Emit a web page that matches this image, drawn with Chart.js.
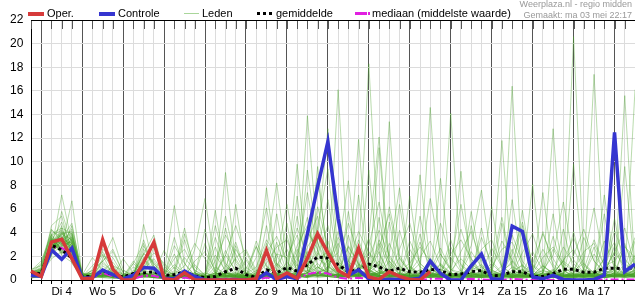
<!DOCTYPE html>
<html>
<head>
<meta charset="utf-8">
<script src="https://cdn.jsdelivr.net/npm/chart.js@4.4.1/dist/chart.umd.min.js"></script>
<style>
  body { margin: 0; background: #fff; }
  #wrap { position: relative; width: 635px; height: 300px; font-family: "Liberation Sans", Arial, sans-serif; }
  #chart { position: absolute; left: 0; top: 0; }
  .lg { position: absolute; font-size: 11px; line-height: 13px; top: 7px; color: #000; white-space: nowrap; }
  .sw { position: absolute; }
  .credit { position: absolute; right: 3px; font-size: 9px; line-height: 10px; color: #999; white-space: nowrap; }
</style>
</head>
<body>
<div id="wrap">
  <canvas id="chart" width="635" height="300"></canvas>

  <div class="sw" style="left:28px;top:12px;width:16px;height:4px;background:#d63a3a"></div>
  <div class="lg" style="left:47px">Oper.</div>
  <div class="sw" style="left:99px;top:12px;width:16px;height:4px;background:#3535d0"></div>
  <div class="lg" style="left:118px">Controle</div>
  <div class="sw" style="left:184px;top:13px;width:15px;height:1px;background:#a9d69a"></div>
  <div class="lg" style="left:202px">Leden</div>
  <div class="sw" style="left:257px;top:12px;width:15px;height:3px;background:repeating-linear-gradient(90deg,#000 0 3px,transparent 3px 6px)"></div>
  <div class="lg" style="left:276px">gemiddelde</div>
  <div class="sw" style="left:355px;top:12px;width:12px;height:3px;background:#e020e0"></div>
  <div class="sw" style="left:368px;top:12px;width:2px;height:3px;background:#e020e0"></div>
  <div class="lg" style="left:372px">mediaan (middelste waarde)</div>

  <div class="credit" style="top:-1px">Weerplaza.nl - regio midden</div>
  <div class="credit" style="top:10px">Gemaakt: ma 03 mei 22:17</div>
</div>

<script>
// 6-hourly steps, first point = ma 3 18:00, last = di 18 12:00
const steps = ['ma 18u',
  'di 00u','di 06u','di 12u','di 18u', 'wo 00u','wo 06u','wo 12u','wo 18u',
  'do 00u','do 06u','do 12u','do 18u', 'vr 00u','vr 06u','vr 12u','vr 18u',
  'za 00u','za 06u','za 12u','za 18u', 'zo 00u','zo 06u','zo 12u','zo 18u',
  'ma 00u','ma 06u','ma 12u','ma 18u', 'di 00u','di 06u','di 12u','di 18u',
  'wo 00u','wo 06u','wo 12u','wo 18u', 'do 00u','do 06u','do 12u','do 18u',
  'vr 00u','vr 06u','vr 12u','vr 18u', 'za 00u','za 06u','za 12u','za 18u',
  'zo 00u','zo 06u','zo 12u','zo 18u', 'ma 00u','ma 06u','ma 12u','ma 18u',
  'di 00u','di 06u','di 12u'];

// day labels, shown at noon
const dayLabels = ['Di 4','Wo 5','Do 6','Vr 7','Za 8','Zo 9','Ma 10','Di 11','Wo 12','Do 13','Vr 14','Za 15','Zo 16','Ma 17'];

const yTicks = [0,2,4,6,8,10,12,14,16,18,20,22];

// operationele run (stopt na do 13 12u)
const oper = [0.75,
  0.3,3.2,3.45,1.8, 0.1,0.15,3.4,0.9, 0,0,1.5,3.2, 0.1,0,0.6,0,
  0,0,0,0, 0,0.1,2.5,0.1, 0.6,0.15,1.85,3.9, 2.3,0.8,0.3,2.7,
  0.25,0.05,0.7,0.3, 0.05,0,0.7];

const controle = [0.4,
  0.3,2.55,1.75,2.7, 0.15,0.2,0.85,0.45, 0.1,0.4,1.05,1.0, 0.15,0.1,0.75,0.3,
  0,0,0,0, 0,0,0.6,0.05, 0.3,0.1,3.9,7.9, 11.7,5.2,0.4,0.85,
  0.1,0.05,0.05,0.05, 0.05,0.15,1.6,0.55, 0,0,1.2,2.2, 0.1,0.05,4.55,4.1,
  0.25,0.1,0.4,0.05, 0,0,0.05,0.4, 12.5,0.7,1.35];

const gemiddelde = [0.5,
  0.55,2.95,2.55,1.85, 0.3,0.3,0.8,0.45, 0.25,0.55,0.6,0.7, 0.4,0.45,0.7,0.35,
  0.2,0.3,0.7,1.0, 0.45,0.2,0.85,0.6, 1.05,0.75,1.3,1.95, 1.85,1.3,0.7,0.9,
  1.35,1.1,0.75,1.0, 0.7,0.65,0.9,0.8, 0.45,0.5,0.7,0.8, 0.35,0.4,0.7,0.7,
  0.3,0.3,0.55,0.9, 0.9,0.65,0.65,1.0, 1.0,0.95,1.05];

const mediaan = [0.3,
  0.4,2.8,2.7,2.2, 0.15,0.2,0.6,0.3, 0.1,0.1,0.35,0.35, 0.1,0,0.2,0.05,
  0,0,0.1,0.1, 0,0,0.2,0.05, 0.2,0.1,0.5,0.65, 0.55,0.2,0.1,0.2,
  0.1,0.05,0.1,0.1, 0.05,0,0.1,0.1, 0,0.05,0.1,0.05, 0,0,0.1,0.05,
  0,0,0,0.05, 0.05,0,0,0.05, 0.05,0.05,0.05];

// ensembleleden (geschat uit de pluim)
const leden = [
  [0.5, 0.8,3.2,3.8,2.5, 0.3,0.2,1.2,0.6, 0.1,0.3,1.8,0.9, 0.2,0.1,0.6,0.2, 0,0.4,2.1,0.8, 0.1,0,0.6,0.3, 1.5,0.4,2.8,4.1, 1.2,0.6,0.3,1.1, 3.5,0.8,0.4,1.9, 0.6,0.2,0.9,0.5, 0.1,0.3,1.4,0.6, 0.2,0.1,0.8,1.2, 0.3,0.2,0.5,1.6, 0.9,0.4,0.6,1.8, 0.7,0.5,1.1],
  [0.3, 0.4,2.6,7.2,3.1, 0.2,0.9,2.4,0.8, 0.2,0.1,0.5,0.3, 0.1,0.8,0.3,0, 0.2,1.1,0.4,0.2, 0,0.3,1.8,0.9, 0.4,0.2,1.2,2.5, 6.8,1.4,0.5,0.2, 0.8,0.4,1.6,0.7, 0.3,0.1,0.4,1.3, 0.6,0.2,0.1,0.4, 0.9,0.3,0.2,0.1, 0.4,1.2,0.6,0.3, 0.1,0.5,2.2,0.8, 0.3,1.4,0.6],
  [0.9, 1.2,3.8,2.9,6.7, 0.5,0.3,0.8,1.5, 0.4,0.2,4.7,1.1, 0.3,0.1,0.2,0.1, 0.6,0.3,0.2,0.5, 0.2,0.1,0.4,1.2, 2.6,0.8,0.3,1.1, 0.6,0.2,0.4,2.1, 18.3,2.2,0.6,0.3, 0.2,0.4,1.6,0.5, 0.2,0.1,0.6,0.3, 0.1,0.2,0.4,0.9, 0.3,0.1,0.2,0.6, 1.1,0.3,0.2,0.4, 0.5,0.3,0.9],
  [0.2, 0.6,2.9,3.3,1.6, 0.1,0.4,0.6,0.2, 0.1,0.6,2.2,3.8, 0.5,6.3,1.4,0.3, 0.2,0.1,0.6,0.3, 0.1,0.2,0.3,0.5, 0.8,0.3,0.6,1.8, 2.4,0.7,0.3,0.5, 0.9,0.4,0.2,0.6, 0.3,0.2,0.4,0.8, 14.1,1.2,0.4,0.2, 0.3,0.1,0.2,0.5, 0.2,0.4,0.8,0.3, 0.2,0.6,0.3,0.2, 0.4,0.8,0.5],
  [0.4, 0.3,2.2,4.1,2.8, 0.2,0.1,1.8,3.6, 0.9,0.2,0.4,0.2, 0.1,0.2,0.5,0.2, 0.1,0.3,9.1,1.4, 0.2,0.1,0.3,0.2, 0.4,1.3,0.6,0.3, 0.8,0.3,1.2,0.5, 0.4,0.8,0.3,0.2, 0.1,0.3,0.7,0.4, 0.2,0.5,1.1,0.7, 0.3,0.2,0.6,1.3, 0.4,0.3,0.2,0.4, 0.6,0.3,0.8,0.5, 0.2,0.4,0.7],
  [0.1, 0.5,1.8,2.4,3.5, 0.3,0.2,0.4,0.3, 0.2,0.4,1.3,0.6, 2.5,0.9,4.4,0.6, 0.2,0.1,0.2,0.4, 0.3,0.6,2.4,8.2, 1.6,0.4,0.2,0.6, 1.1,0.5,0.3,0.8, 1.4,0.5,0.9,0.4, 0.6,0.2,0.3,0.5, 0.2,0.3,0.6,1.1, 0.4,0.2,0.3,0.6, 0.2,0.1,0.4,0.8, 0.3,0.2,0.5,1.1, 0.6,0.3,0.4],
  [0.6, 1.1,4.2,3.6,2.1, 0.4,0.6,0.3,0.2, 0.1,1.4,3.1,0.8, 0.2,0.1,0.3,2.6, 6.9,1.2,0.4,0.2, 0.1,0.2,0.5,0.3, 0.2,0.4,1.6,0.8, 0.5,1.3,0.6,0.3, 0.7,0.2,0.4,0.3, 0.5,0.4,0.2,0.3, 0.6,0.3,0.2,0.4, 0.3,11.8,0.9,0.4, 0.2,0.3,0.6,0.4, 0.2,0.3,0.6,0.2, 0.3,0.5,0.8],
  [0.3, 0.2,3.4,2.7,1.9, 0.2,0.3,0.9,0.4, 0.3,0.2,0.6,0.4, 0.1,0.2,0.4,0.1, 0.3,5.9,0.7,0.3, 0.2,2.9,0.6,0.2, 0.4,0.2,0.8,0.5, 1.7,0.4,0.3,11.9, 0.6,0.3,0.4,0.2, 0.3,0.9,0.5,0.3, 0.2,0.4,0.3,0.2, 0.5,0.3,0.2,0.4, 8.1,0.5,0.3,0.2, 0.4,0.2,0.3,0.6, 0.2,0.3,0.4],
  [0.7, 0.9,2.8,3.1,4.3, 0.6,0.2,0.4,0.3, 0.2,0.1,0.3,0.5, 0.3,0.4,0.2,0.3, 0.2,0.4,0.3,6.4, 0.8,0.3,0.2,0.4, 0.3,9.8,1.2,0.4, 0.3,0.2,0.5,0.4, 0.8,0.4,13.4,0.9, 0.4,0.3,0.2,0.6, 0.3,0.2,0.4,0.5, 0.2,0.4,0.3,0.2, 0.3,0.6,12.8,1.1, 0.5,0.3,0.4,0.3, 0.6,0.4,0.3],
  [0.2, 0.4,3.6,2.2,2.6, 0.1,0.5,0.6,0.2, 0.1,0.2,0.8,0.4, 0.2,0.1,0.6,0.3, 0.4,0.2,0.5,0.3, 0.2,0.1,0.4,0.6, 0.2,0.3,13.9,3.2, 0.6,0.2,0.4,0.3, 0.5,0.3,0.2,0.4, 0.3,0.5,0.6,0.4, 0.2,0.6,0.3,0.2, 0.4,0.3,0.5,0.3, 0.2,0.4,0.3,0.5, 20.6,1.4,0.3,0.2, 0.4,0.2,0.3],
  [0.5, 0.7,2.4,4.6,1.4, 0.2,0.4,0.2,0.1, 0.4,0.6,0.3,0.2, 0.1,0.3,0.2,0.4, 0.3,0.2,0.4,0.2, 0.6,0.4,7.8,1.3, 0.6,0.4,0.3,0.6, 0.5,16.1,1.4,0.5, 0.3,0.6,0.4,0.3, 0.2,0.4,0.3,0.2, 0.3,0.4,0.5,0.3, 0.6,0.4,0.3,0.2, 0.4,0.3,0.2,0.3, 0.5,0.4,17.4,1.3, 0.4,0.3,0.5],
  [0.2, 0.3,3.1,2.6,3.4, 0.4,0.3,0.5,0.2, 0.2,0.3,1.6,0.7, 0.3,0.2,0.3,0.2, 0.1,0.4,0.2,0.3, 0.2,0.3,0.6,0.4, 0.3,0.4,0.6,1.4, 0.5,0.3,0.4,0.6, 0.4,0.3,0.5,0.4, 0.3,0.6,14.6,1.2, 0.4,0.3,0.2,0.4, 0.3,0.5,0.4,0.3, 0.2,0.3,0.4,0.3, 0.4,0.3,0.6,0.4, 0.3,15.6,0.8],
  [0.4, 0.6,4.6,5.4,2.2, 0.3,0.2,0.4,0.6, 0.3,0.2,0.4,0.2, 0.1,0.3,0.4,0.2, 0.3,0.6,0.4,0.3, 0.2,0.3,0.4,0.2, 0.3,0.5,0.3,0.4, 0.6,0.4,0.3,0.5, 0.4,11.2,0.8,0.3, 0.5,0.3,0.4,0.2, 0.4,0.3,0.6,0.4, 0.2,0.3,16.4,0.8, 0.3,0.2,0.4,0.3, 0.5,0.3,0.4,0.6, 0.3,0.4,0.5],
  [0.3, 0.5,2.5,3.0,3.2, 0.2,0.4,0.3,0.4, 0.2,0.3,0.5,0.3, 0.2,0.4,0.3,0.2, 0.1,0.2,0.3,0.4, 0.3,0.4,0.2,0.5, 0.4,0.3,0.5,0.4, 0.3,0.5,0.4,0.3, 0.6,0.4,0.3,0.5, 0.4,0.3,0.2,0.4, 0.3,0.5,0.4,0.6, 0.4,0.3,0.5,0.4, 0.3,0.4,0.5,0.3, 0.4,0.6,0.3,0.4, 0.5,0.3,16.1],
  [0.6, 0.8,3.3,4.9,2.7, 0.4,1.9,0.8,0.3, 0.2,0.4,0.3,2.8, 1.2,0.3,0.2,0.4, 3.1,0.6,0.3,0.2, 0.4,0.3,4.6,0.8, 0.3,2.2,5.3,1.1, 0.5,0.3,3.8,0.6, 0.3,0.8,0.4,4.2, 1.1,0.3,0.2,0.6, 3.4,0.8,0.3,0.2, 0.5,4.8,0.9,0.3, 0.2,0.6,3.7,0.8, 0.3,0.5,0.2,0.6, 5.2,0.7,0.4],
  [0.3, 0.4,2.7,3.5,4.8, 0.3,0.2,0.6,0.3, 1.8,0.6,0.3,0.2, 0.3,3.6,0.8,0.2, 0.2,0.5,4.4,0.9, 0.3,0.2,0.4,5.6, 0.8,0.3,4.1,2.6, 0.4,6.2,0.8,0.3, 0.6,2.4,0.3,0.5, 7.1,0.9,0.3,0.2, 0.4,0.3,5.8,1.2, 0.3,0.2,0.4,3.6, 0.6,0.3,0.2,4.3, 0.8,0.2,0.5,0.3, 2.9,0.6,0.4],
  [0.8, 1.6,3.9,2.4,1.8, 0.5,0.3,1.4,0.7, 0.2,0.3,2.6,1.4, 0.3,0.2,0.3,0.6, 0.4,2.8,0.6,0.3, 1.7,0.4,0.3,0.8, 4.8,0.6,0.3,0.5, 3.3,0.4,0.6,7.2, 0.8,0.3,4.9,0.6, 0.3,0.4,0.2,8.6, 0.9,0.3,0.4,0.3, 6.2,0.8,0.4,0.3, 0.2,0.4,0.8,0.5, 4.1,0.7,0.3,0.6, 0.4,0.3,3.3],
  [0.2, 0.3,2.1,4.4,3.9, 0.2,0.6,2.1,0.4, 0.3,0.2,0.6,0.4, 0.2,1.1,0.4,0.3, 0.2,0.4,0.8,0.3, 0.2,0.5,0.3,0.4, 0.6,5.4,0.9,0.4, 0.3,0.5,0.8,3.4, 0.9,0.4,0.3,0.5, 0.3,5.4,1.1,0.3, 0.5,0.3,0.4,0.8, 0.3,0.5,2.6,0.4, 0.3,7.4,0.9,0.3, 0.2,0.4,2.8,0.6, 0.8,0.3,0.6],
  [0.4, 0.9,3.0,3.2,2.9, 0.3,0.4,0.3,1.2, 0.4,0.3,3.4,0.9, 0.2,0.4,0.6,0.3, 0.2,0.3,0.6,1.8, 0.4,0.3,0.6,0.4, 0.3,0.6,0.8,9.6, 1.2,0.4,0.3,0.5, 0.4,0.6,0.8,0.3, 0.4,0.3,0.6,0.4, 0.3,0.6,0.4,0.3, 0.8,0.4,0.3,0.6, 0.4,0.3,0.6,0.4, 0.3,0.8,0.4,0.3, 0.6,0.4,0.3],
  [0.5, 0.6,2.3,2.8,3.7, 0.6,0.3,0.5,0.3, 0.3,0.8,0.4,0.3, 0.4,0.2,0.3,0.4, 0.3,0.2,0.3,0.4, 0.3,0.4,0.3,0.6, 0.4,0.3,0.4,0.6, 0.9,0.4,0.3,0.5, 0.4,0.3,0.6,0.4, 0.3,0.4,0.5,0.3, 0.4,0.3,0.6,0.4, 0.3,0.4,0.3,0.5, 0.3,0.4,0.6,0.3, 0.4,0.5,0.3,0.4, 0.3,0.5,0.4],
  [0.2, 0.4,3.7,2.5,2.3, 0.4,0.8,1.6,2.6, 0.6,0.2,0.3,0.4, 0.3,0.2,0.4,0.6, 0.2,0.4,0.3,0.2, 0.4,0.3,0.2,0.4, 0.3,0.4,0.2,3.6, 12.8,2.1,0.4,0.3, 0.5,0.3,0.4,0.6, 0.3,0.2,0.5,0.3, 0.4,0.3,0.2,0.5, 0.3,0.6,0.4,0.3, 0.5,0.3,0.4,0.2, 0.3,0.4,0.6,0.3, 0.4,0.3,0.2],
  [0.6, 0.5,2.9,3.9,4.1, 0.3,0.2,0.3,0.5, 0.2,0.4,0.6,0.3, 0.2,0.3,0.2,0.4, 0.6,0.3,0.4,0.3, 0.2,0.6,0.3,0.2, 0.4,0.6,0.3,0.5, 0.3,0.4,0.6,0.3, 0.5,0.3,0.4,0.3, 0.4,0.3,0.2,0.4, 0.6,0.3,0.4,0.2, 0.3,0.5,0.4,0.3, 0.4,0.3,0.5,0.4, 0.3,0.4,0.3,0.5, 0.4,0.3,0.6],
  [0.3, 0.5,3.5,2.1,1.5, 0.2,0.3,0.4,0.2, 0.3,0.2,0.4,0.3, 0.2,0.5,3.4,0.6, 0.3,0.4,2.5,0.6, 0.3,0.2,0.4,0.3, 3.8,0.6,0.3,0.4, 0.6,0.3,5.8,0.9, 0.4,0.3,0.5,0.4, 0.6,3.9,0.5,0.3, 0.2,0.4,0.3,4.4, 0.7,0.3,0.4,0.5, 0.3,0.5,5.6,0.8, 0.4,0.3,0.6,0.4, 0.3,3.1,0.5],
  [0.4, 0.7,2.0,5.8,3.0, 0.3,0.4,0.6,0.3, 0.2,1.1,0.5,0.3, 0.3,0.2,0.3,0.4, 0.2,0.3,0.6,0.3, 0.4,0.3,0.5,3.2, 0.6,0.4,0.3,2.3, 0.5,0.3,0.4,0.6, 0.3,5.3,0.6,0.3, 0.4,0.3,0.6,0.4, 0.3,0.5,0.4,0.6, 0.3,0.4,0.3,5.9, 0.8,0.3,0.4,0.3, 0.5,0.3,0.4,5.6, 0.7,0.4,0.3],
  [0.6, 1.0,3.2,3.6,2.4, 0.4,0.3,0.2,0.4, 0.3,0.2,0.3,0.6, 0.4,0.2,0.3,0.2, 0.3,0.6,0.4,0.3, 0.2,0.3,0.6,0.4, 0.3,0.4,0.2,0.3, 0.4,0.3,0.2,0.4, 9.3,0.7,0.3,0.4, 0.2,0.4,0.3,0.5, 0.4,0.2,0.3,0.4, 0.3,0.4,0.2,0.3, 0.4,0.6,0.3,0.4, 0.3,0.2,0.4,0.3, 0.4,0.3,0.5],
  [0.3, 0.6,3.4,3.4,3.1, 0.2,0.4,0.5,0.3, 0.2,0.3,0.4,0.2, 0.3,0.2,0.4,0.3, 0.2,0.3,0.4,0.2, 0.3,0.4,0.2,0.3, 0.4,0.2,0.3,0.4, 0.3,0.5,0.2,0.3, 0.4,0.3,0.2,0.3, 0.2,0.4,0.3,0.2, 0.3,0.4,0.2,0.3, 0.4,0.3,0.2,0.4, 0.3,0.2,0.4,0.3, 0.2,0.3,0.4,0.2, 0.3,0.4,0.3],
  [0.5, 0.8,2.6,2.9,3.3, 0.3,0.2,0.3,0.4, 0.3,0.2,0.5,0.3, 0.4,0.3,0.2,0.3, 0.2,0.3,0.2,0.4, 0.3,0.2,0.3,0.2, 0.6,0.3,2.4,0.6, 0.3,0.4,0.2,0.6, 0.4,0.3,0.2,0.4, 0.3,0.2,0.4,0.3, 0.2,9.2,0.6,0.3, 0.2,0.4,0.3,0.2, 0.3,0.4,0.2,0.3, 0.4,0.3,0.2,0.4, 0.3,0.2,0.4],
  [0.2, 0.4,3.0,3.7,2.0, 0.2,0.3,0.4,0.2, 0.1,0.2,0.3,0.2, 0.2,0.3,0.2,0.2, 0.3,0.2,0.3,0.2, 0.2,0.3,0.2,0.3, 0.2,0.3,0.4,0.2, 0.3,0.2,0.3,0.4, 0.2,0.3,0.2,0.3, 0.2,0.3,0.4,0.2, 0.3,0.2,0.3,0.2, 0.4,0.3,0.2,0.3, 0.2,0.3,0.2,0.4, 0.3,0.2,0.3,0.2, 0.3,0.2,0.3],
  [0.4, 0.5,2.8,4.0,2.6, 0.3,0.6,0.3,0.2, 0.4,0.3,0.2,0.5, 0.3,2.2,0.4,0.3, 0.2,0.3,0.5,2.9, 0.4,0.3,0.2,0.4, 0.3,7.1,0.8,0.4, 0.3,0.2,0.4,0.3, 0.6,0.4,0.3,6.4, 0.9,0.4,0.3,0.2, 0.4,0.3,0.5,0.3, 0.2,0.4,0.3,0.4, 0.3,0.2,0.4,0.3, 9.8,0.6,0.3,0.4, 0.3,0.4,0.2],
  [0.3, 0.6,3.1,2.3,3.6, 0.4,0.3,0.2,0.3, 0.2,0.3,0.4,0.2, 0.3,0.4,0.2,0.3, 4.3,0.6,0.3,0.2, 0.3,0.2,0.4,0.3, 0.4,0.3,0.2,0.6, 0.3,0.5,0.3,0.4, 0.3,0.2,0.4,0.3, 0.2,0.3,0.4,0.6, 0.3,0.2,4.6,0.7, 0.3,0.4,0.2,0.3, 0.6,0.3,0.4,0.2, 0.3,0.4,0.3,0.2, 0.4,9.6,0.6],
  [0.5, 0.7,2.5,3.3,2.1, 0.2,0.4,0.7,0.3, 0.2,0.2,0.3,0.4, 0.2,0.3,0.2,0.3, 0.2,0.6,0.3,0.2, 2.4,0.6,0.3,0.2, 0.3,0.2,0.4,0.6, 0.3,0.2,0.4,0.3, 0.2,0.4,0.3,0.2, 0.4,0.3,0.2,0.3, 0.2,0.4,0.3,0.2, 0.3,0.2,6.8,0.8, 0.3,0.4,0.2,0.3, 0.2,0.4,0.3,0.2, 0.3,0.4,0.3],
  [0.6, 0.9,3.6,2.6,4.6, 0.5,0.3,0.4,0.2, 0.3,0.4,0.2,0.3, 0.2,0.3,0.4,0.2, 0.3,0.4,0.6,0.3, 0.2,0.4,0.3,0.2, 0.4,0.3,0.6,0.3, 0.4,0.3,0.5,0.4, 0.3,0.6,0.3,0.4, 0.3,0.2,0.4,0.3, 0.4,0.3,0.2,0.4, 0.3,0.4,0.3,0.2, 0.4,0.3,0.2,0.3, 0.4,0.3,0.2,0.4, 0.3,0.6,0.4],
  [0.4, 0.6,2.4,3.9,3.4, 0.3,1.2,2.2,1.1, 0.3,0.5,2.3,1.4, 0.4,1.8,2.6,0.8, 0.3,1.6,3.8,2.2, 0.5,1.1,3.4,2.1, 0.6,2.9,4.6,1.8, 1.2,3.6,2.4,0.9, 1.8,4.2,2.1,0.8, 1.4,2.8,1.6,0.6, 2.2,3.4,1.8,0.7, 1.1,2.6,3.2,1.2, 0.6,1.9,2.8,1.4, 0.8,2.4,3.1,1.2, 1.6,2.8,1.9],
  [0.6, 1.3,3.9,4.4,2.2, 0.5,0.3,1.6,2.4, 0.6,0.3,1.1,2.3, 1.4,0.5,1.2,3.1, 1.8,0.6,2.1,4.6, 1.9,0.5,2.3,3.7, 1.6,4.4,2.1,0.9, 2.6,1.3,4.8,2.2, 0.9,2.7,5.6,1.8, 0.7,1.9,3.3,1.2, 0.5,2.4,4.1,1.6, 0.8,3.3,1.7,0.6, 1.4,3.9,1.8,0.5, 2.1,4.3,1.6,0.7, 2.4,1.1,3.6],
  [0.3, 0.5,3.3,3.1,1.7, 0.2,0.4,0.9,0.5, 0.3,0.6,0.8,0.6, 0.3,2.9,1.4,0.4, 0.2,0.8,5.4,1.6, 0.4,0.3,1.4,2.8, 3.4,1.2,0.6,6.2, 2.8,0.7,1.6,4.1, 2.3,0.9,0.5,2.6, 4.8,1.4,0.6,0.4, 1.3,6.4,1.8,0.5, 0.4,1.2,3.8,1.6, 0.5,0.8,2.1,6.6, 1.7,0.6,0.4,1.8, 3.2,0.9,0.6],
  [0.5, 0.8,2.2,3.4,4.0, 0.4,0.6,0.5,0.3, 0.2,0.3,0.9,1.8, 0.6,0.3,0.5,1.3, 0.4,3.6,1.2,0.4, 0.3,1.9,6.1,1.4, 0.5,0.6,3.3,5.4, 1.6,2.3,8.4,1.2, 0.6,0.4,2.2,7.8, 1.1,0.5,0.8,2.7, 0.9,0.6,2.4,1.1, 0.4,0.8,1.4,4.6, 1.2,0.4,0.6,2.8, 1.4,0.5,0.3,7.2, 1.3,0.6,2.1],
  [0.2, 0.3,2.8,3.6,2.9, 0.3,0.2,2.6,1.9, 0.4,0.2,0.6,3.3, 0.8,0.4,0.2,0.6, 0.2,0.4,1.1,3.2, 0.6,0.3,0.4,2.2, 1.9,3.8,1.1,0.7, 0.9,3.1,1.3,0.6, 2.9,6.6,1.9,0.8, 0.6,1.4,6.9,2.2, 0.8,1.8,0.9,2.6, 3.4,1.2,0.5,0.6, 2.4,0.8,0.6,1.6, 3.6,1.2,0.6,0.9, 2.3,4.4,1.1],
  [0.7, 1.4,4.3,3.2,2.6, 0.6,0.4,0.3,1.2, 0.8,0.4,2.2,1.6, 0.4,1.3,0.6,0.3, 0.2,0.6,0.5,1.9, 2.6,0.8,0.5,1.4, 0.8,0.6,9.3,3.1, 1.4,0.6,2.8,1.3, 0.6,3.4,1.6,0.5, 2.6,1.1,0.6,4.8, 1.9,0.7,0.4,0.6, 1.4,5.3,1.2,0.6, 0.8,2.6,1.1,0.4, 0.6,1.8,6.1,1.4, 0.8,0.6,1.9],
  [0.4, 0.6,3.0,2.8,3.8, 0.4,0.3,0.6,0.4, 0.3,1.6,0.7,0.3, 0.2,0.4,1.9,0.8, 0.4,0.3,0.6,0.4, 0.9,2.8,1.1,0.5, 0.4,1.6,3.6,8.6, 2.2,0.8,0.4,1.3, 1.1,0.6,3.1,1.2, 0.5,8.9,1.3,0.6, 0.4,0.8,2.9,7.6, 1.6,0.6,0.4,0.9, 0.6,4.1,1.3,0.5, 0.4,0.9,0.6,3.3, 1.1,0.5,0.4],
  [0.3, 0.5,3.2,4.1,3.0, 0.2,0.4,0.8,0.3, 0.2,0.3,0.5,0.4, 0.2,0.3,0.6,0.3, 0.4,0.3,0.5,0.6, 0.3,0.8,0.4,1.8, 6.4,1.8,0.6,2.1, 4.6,1.1,0.6,0.4, 0.8,1.6,0.5,0.3, 0.6,0.4,1.8,0.9, 0.5,0.3,0.6,0.4, 0.3,0.6,1.6,0.5, 0.3,0.5,0.9,0.4, 0.3,0.6,0.4,0.8, 0.5,0.3,0.6],
  [0.5, 0.9,3.5,2.6,2.8, 0.5,0.3,0.4,0.6, 0.4,0.2,0.3,0.5, 0.3,0.6,0.4,0.2, 0.3,2.1,0.8,0.4, 0.6,0.4,0.3,0.6, 0.4,0.3,1.9,4.4, 9.4,1.6,0.7,0.4, 0.6,0.4,0.8,0.5, 0.3,0.5,0.4,0.3, 0.6,0.4,0.3,0.8, 0.5,0.4,0.6,0.3, 0.4,0.8,0.5,0.3, 0.6,0.4,0.3,0.5, 0.4,0.6,0.3],
  [0.4, 0.7,2.7,3.0,2.4, 0.3,0.2,0.5,0.4, 0.2,0.5,1.9,0.6, 0.3,0.2,0.4,0.3, 0.2,0.4,0.3,0.5, 0.3,0.2,0.6,0.4, 0.3,0.5,0.4,0.6, 0.4,0.3,0.6,0.4, 3.6,12.1,1.4,0.5, 0.3,0.6,0.4,0.3, 0.5,0.4,0.6,0.3, 0.4,0.3,0.5,0.4, 0.3,0.6,0.4,0.5, 0.3,0.4,0.6,0.3, 0.5,0.4,0.3],
  [0.6, 1.0,3.8,4.2,3.3, 0.4,0.6,0.4,0.3, 0.2,0.4,0.6,0.3, 0.2,0.3,0.4,0.3, 0.2,0.3,0.4,0.6, 0.4,0.3,0.5,0.3, 0.4,0.6,0.3,0.4, 0.6,0.4,0.3,0.5, 0.4,0.6,0.4,0.3, 0.5,0.3,0.4,0.6, 0.3,0.4,0.3,0.5, 0.6,0.4,0.3,0.4, 0.5,0.3,0.4,0.6, 0.3,0.4,0.5,0.3, 0.4,0.5,0.3],
  [0.3, 0.4,2.3,3.3,3.9, 0.3,0.2,0.4,0.3, 0.2,0.3,0.4,0.2, 0.3,0.2,0.3,0.4, 0.3,0.2,0.4,0.3, 0.2,0.4,0.3,0.5, 0.3,0.4,0.6,0.3, 0.5,0.3,0.4,0.3, 0.6,0.4,0.3,0.5, 0.4,0.3,0.5,0.4, 0.3,0.5,0.4,0.3, 0.4,0.6,0.3,0.4, 0.3,0.4,0.5,0.3, 0.4,0.3,0.5,0.4, 0.3,0.4,0.5],
  [0.2, 0.3,2.6,3.5,2.7, 0.2,0.3,0.5,0.4, 0.2,0.4,2.9,1.2, 0.3,0.6,3.9,1.1, 0.4,4.6,1.4,0.5, 0.3,3.3,1.2,0.4, 0.6,1.8,7.4,2.4, 0.8,4.1,1.6,0.6, 2.4,1.2,6.2,2.1, 0.7,3.2,1.1,0.4, 2.8,1.3,0.6,3.6, 1.4,0.5,2.2,4.9, 1.3,0.6,2.6,1.1, 0.5,3.6,1.6,0.6, 4.2,1.8,0.7],
  [0.5, 0.7,3.4,2.3,3.1, 0.3,0.8,1.6,0.6, 0.3,1.4,0.6,0.3, 0.9,0.4,0.3,1.6, 2.4,0.8,0.4,2.6, 1.1,0.4,3.1,1.2, 0.4,2.6,1.1,3.8, 1.2,0.5,2.9,1.4, 0.6,3.1,1.2,0.5, 3.3,1.4,0.6,2.2, 0.9,4.3,1.5,0.6, 2.7,1.1,0.5,2.3, 3.9,1.2,0.5,1.7, 2.6,0.9,3.4,1.3, 0.6,2.9,1.2],
  [0.3, 0.4,3.1,4.0,2.5, 0.2,0.3,0.4,0.8, 0.5,0.3,0.6,0.4, 0.3,0.2,0.6,0.5, 0.3,0.5,0.4,0.3, 0.2,0.4,0.6,0.5, 0.3,0.8,1.4,0.6, 0.4,1.1,0.5,0.3, 0.6,1.3,0.5,0.4, 1.2,0.5,0.3,1.4, 0.6,0.3,0.8,1.3, 0.5,0.3,1.1,0.6, 0.4,1.2,0.5,0.3, 0.8,1.4,0.6,0.4, 1.1,0.5,0.8],
  [0.4, 0.6,2.9,3.1,3.6, 0.4,0.5,0.3,0.4, 0.3,0.2,0.4,0.6, 0.4,0.3,0.5,0.3, 0.2,0.4,0.6,0.4, 0.5,0.3,0.4,0.8, 0.5,0.4,0.6,1.1, 0.6,0.4,0.8,0.5, 0.4,0.6,0.9,0.4, 0.6,0.8,0.4,0.5, 0.3,0.6,0.5,0.4, 0.8,0.5,0.3,0.6, 0.5,0.4,0.7,0.5, 0.4,0.6,0.5,0.8, 0.5,0.4,0.6]
];

const RED = '#d63a3a';
const BLUE = '#3535d0';
const MEMBER = 'rgba(70,160,40,0.38)';

// korte streepjes aan de bovenrand, zoals in het origineel
const topTicks = {
  id: 'topTicks',
  afterDatasetsDraw(chart) {
    const { ctx, chartArea, scales } = chart;
    const x = scales.x;
    ctx.save();
    ctx.lineWidth = 1;
    ctx.strokeStyle = '#555';
    ctx.beginPath();
    for (let i = 0; i < steps.length; i++) {
      const px = Math.round(x.getPixelForValue(i)) + 0.5;
      ctx.moveTo(px, chartArea.top);
      ctx.lineTo(px, chartArea.top + 9);
    }
    ctx.stroke();
    ctx.strokeStyle = '#000';
    ctx.beginPath();
    ctx.moveTo(chartArea.left, chartArea.top + 0.5);
    ctx.lineTo(chartArea.right, chartArea.top + 0.5);
    ctx.stroke();
    ctx.restore();
  }
};

const datasets = [];
datasets.push({ data: oper, borderColor: RED, borderWidth: 3.5, order: 0, spanGaps: false });
datasets.push({ data: controle, borderColor: BLUE, borderWidth: 3.5, order: 1 });
datasets.push({ data: gemiddelde, borderColor: '#000', borderWidth: 3, borderDash: [3, 3], order: 2 });
datasets.push({ data: mediaan, borderColor: '#e020e0', borderWidth: 2, borderDash: [8, 3, 2, 3], order: 3 });
leden.forEach(m => {
  datasets.push({ data: m, borderColor: MEMBER, borderWidth: 1, order: 10 });
});

new Chart(document.getElementById('chart'), {
  type: 'line',
  data: { labels: steps, datasets: datasets },
  options: {
    responsive: false,
    animation: false,
    devicePixelRatio: 1,
    layout: { padding: { top: 20, left: 10, right: 0, bottom: 0 } },
    elements: {
      point: { radius: 0, hoverRadius: 0 },
      line: { tension: 0, fill: false, borderCapStyle: 'butt', borderJoinStyle: 'miter' }
    },
    plugins: {
      legend: { display: false },
      title: { display: false },
      tooltip: { enabled: false }
    },
    events: [],
    scales: {
      x: {
        type: 'category',
        offset: false,
        afterFit: (s) => { s.height = 20; },
        border: { color: '#000', width: 1 },
        grid: {
          color: (c) => ((c.index - 1) % 4 === 0 ? '#555' : '#dcdcdc'),
          tickColor: '#000',
          tickLength: 4,
          drawTicks: true
        },
        ticks: {
          autoSkip: false,
          maxRotation: 0,
          minRotation: 0,
          padding: 1,
          color: '#000',
          font: { family: 'Liberation Sans, Arial, sans-serif', size: 11.5 },
          callback: (v, i) => (i >= 3 && (i - 3) % 4 === 0 ? dayLabels[(i - 3) / 4] : '')
        }
      },
      y: {
        min: 0,
        max: 22,
        afterFit: (s) => { s.width = 21; },
        afterBuildTicks: (s) => { s.ticks = yTicks.map(v => ({ value: v })); },
        border: { color: '#000', width: 1 },
        grid: { color: '#dcdcdc', drawTicks: false },
        ticks: {
          crossAlign: 'far',
          color: '#000',
          font: { family: 'Liberation Sans, Arial, sans-serif', size: 12 }
        }
      }
    }
  },
  plugins: [topTicks]
});
</script>
</body>
</html>
